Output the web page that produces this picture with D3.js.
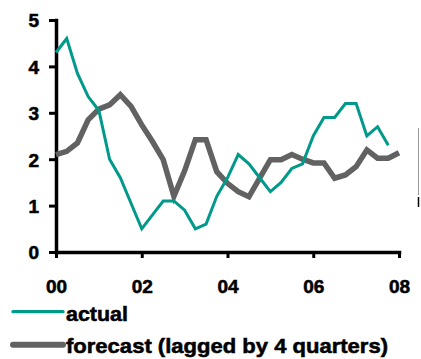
<!DOCTYPE html>
<html>
<head>
<meta charset="utf-8">
<script src="https://cdn.jsdelivr.net/npm/d3@7/dist/d3.min.js"></script>
<style>
  html, body { margin: 0; padding: 0; background: #fff; }
  svg { display: block; }
  text { font-family: "Liberation Sans", Arial, sans-serif; font-weight: 700; fill: #000; stroke: #000; stroke-width: 0.55px; }
</style>
</head>
<body>
<div id="chart"></div>
<script>
// Quarterly series, 2000Q1 onwards
const actual = [
  4.3, 4.6, 3.85, 3.35, 3.05, 2.0, 1.6, 1.05,
  0.5, 0.8, 1.1, 1.1, 0.9, 0.5, 0.6, 1.2,
  1.6, 2.1, 1.9, 1.6, 1.3, 1.5, 1.8, 1.9,
  2.5, 2.9, 2.9, 3.2, 3.2, 2.5, 2.7, 2.3
];
const forecast = [
  2.1, 2.17, 2.35, 2.85, 3.08, 3.17, 3.39, 3.14,
  2.74, 2.38, 1.99, 1.2, 1.75, 2.42, 2.42, 1.73,
  1.48, 1.3, 1.19, 1.59, 1.99, 1.99, 2.1, 2.0,
  1.92, 1.92, 1.59, 1.66, 1.84, 2.2, 2.02, 2.02, 2.14
];
const startYear = 2000;
const xTicks = [2000, 2002, 2004, 2006, 2008];
const xTickLabels = ["00", "02", "04", "06", "08"];
const yTicks = [0, 1, 2, 3, 4, 5];
const seriesNames = ["actual", "forecast (lagged by 4 quarters)"];
const seriesColors = ["#00998a", "#626262"];

const W = 421, H = 359;
const svg = d3.select("#chart").append("svg").attr("width", W).attr("height", H);

const x = d3.scaleLinear().domain([2000, 2008]).range([56, 399]);
const y = d3.scaleLinear().domain([0, 5]).range([252, 20]);

// axes
const yAxis = d3.axisLeft(y).tickValues(yTicks).tickSize(7).tickSizeOuter(0).tickPadding(10)
  .tickFormat(d3.format("d"));
const xAxis = d3.axisBottom(x).tickValues(xTicks).tickSize(6).tickSizeOuter(0).tickPadding(22)
  .tickFormat((d, i) => xTickLabels[i]);

const gy = svg.append("g").attr("transform", "translate(56,0)").call(yAxis);
const gx = svg.append("g").attr("transform", "translate(0,252)").call(xAxis);

[gy, gx].forEach(g => {
  g.attr("font-family", null).attr("font-size", null);
  g.select(".domain").attr("stroke", "#000").attr("stroke-width", 3.5).attr("stroke-linecap", "square");
  g.selectAll(".tick line").attr("stroke", "#000").attr("stroke-width", 3);
  g.selectAll(".tick text").attr("font-size", 19);
});
gx.selectAll(".tick text").attr("dy", null).attr("y", 41);
gy.selectAll(".tick text").attr("dy", "0.36em");

// series lines
const line = d3.line()
  .x((d, i) => x(startYear + i / 4))
  .y(d => y(d));

svg.append("path").datum(forecast)
  .attr("fill", "none").attr("stroke", seriesColors[1]).attr("stroke-width", 5.5)
  .attr("stroke-linejoin", "miter").attr("d", line);

svg.append("path").datum(actual)
  .attr("fill", "none").attr("stroke", seriesColors[0]).attr("stroke-width", 3)
  .attr("stroke-linejoin", "miter").attr("d", line);

// legend
const legend = svg.append("g");
const legendRows = [
  { name: seriesNames[0], color: seriesColors[0], width: 3.3, ly: 311.7, ty: 321, len: 62 },
  { name: seriesNames[1], color: seriesColors[1], width: 6, ly: 344.7, ty: 352.5, len: 322 }
];
legendRows.forEach(r => {
  legend.append("line")
    .attr("x1", 13).attr("x2", 63).attr("y1", r.ly).attr("y2", r.ly)
    .attr("stroke", r.color).attr("stroke-width", r.width).attr("stroke-linecap", "round");
  legend.append("text")
    .attr("x", 66).attr("y", r.ty)
    .attr("font-size", 21)
    .attr("textLength", r.len).attr("lengthAdjust", "spacingAndGlyphs")
    .text(r.name);
});

// thin frame edge at right
svg.append("line").attr("x1", 418.5).attr("x2", 418.5).attr("y1", 128).attr("y2", 195)
  .attr("stroke", "#9a9a9a").attr("stroke-width", 1);
svg.append("line").attr("x1", 418.5).attr("x2", 418.5).attr("y1", 197).attr("y2", 207)
  .attr("stroke", "#000").attr("stroke-width", 1.5);
</script>
</body>
</html>
